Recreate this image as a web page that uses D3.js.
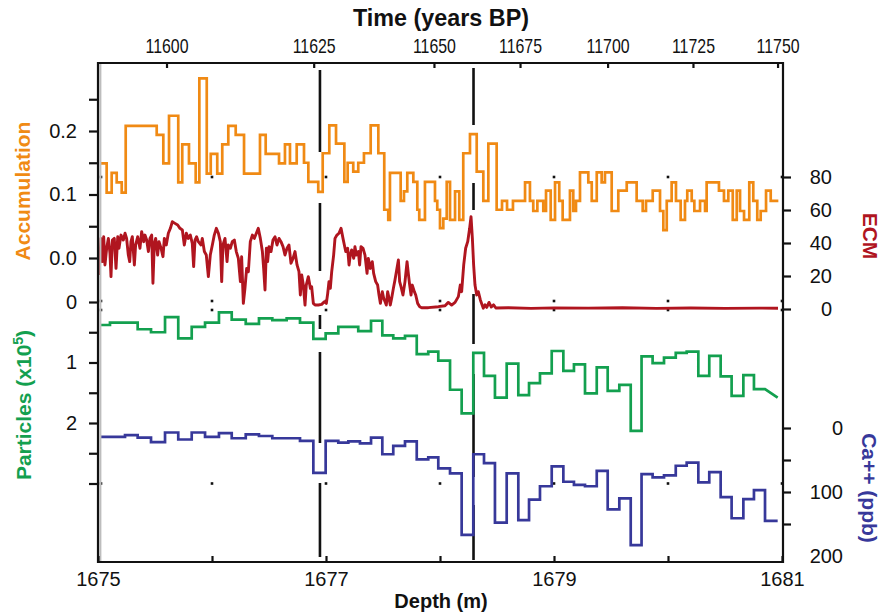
<!DOCTYPE html>
<html>
<head>
<meta charset="utf-8">
<script src="https://cdn.jsdelivr.net/npm/d3@7"></script>
<style>
  html, body { margin: 0; padding: 0; background: #fff; }
  svg { display: block; font-family: "Liberation Sans", Arial, Helvetica, sans-serif; }
</style>
</head>
<body>
<div id="chart"></div>
<script>
// ---- Depth axis (m) and the matching age scale (years BP) ----
const depthDomain = [1675, 1681];
const depthLabels = [1675, 1677, 1679, 1681];
const depthTicks = [1675, 1676, 1677, 1678, 1679, 1680, 1681];
const ageTicks = [11600, 11625, 11650, 11675, 11700, 11725, 11750];
const ageTickDepth = [1675.601, 1676.892, 1677.947, 1678.702, 1679.470, 1680.219, 1680.961];

// ---- Event markers (depth, m) ----
const eventDepth = [1676.947, 1678.294];

// ---- Accumulation (step series: start depth of each step, value) ----
const accDepth = [1675.018,1675.076,1675.120,1675.164,1675.208,1675.243,1675.515,1675.573,1675.623,1675.704,
  1675.739,1675.798,1675.857,1675.889,1675.954,1675.989,1676.046,1676.090,1676.143,1676.208,
  1676.281,1676.421,1676.471,1676.588,1676.640,1676.684,1676.743,1676.807,1676.845,1676.932,
  1676.971,1677.029,1677.088,1677.161,1677.190,1677.239,1677.283,1677.333,1677.392,1677.459,
  1677.511,1677.546,1677.561,1677.655,1677.684,1677.713,1677.766,1677.801,1677.818,1677.868,
  1677.956,1677.976,1678.000,1678.029,1678.059,1678.088,1678.132,1678.169,1678.204,1678.263,
  1678.322,1678.380,1678.424,1678.497,1678.544,1678.588,1678.640,1678.746,1678.789,1678.818,
  1678.854,1678.906,1678.930,1678.971,1679.009,1679.046,1679.076,1679.140,1679.169,1679.193,
  1679.228,1679.301,1679.331,1679.375,1679.418,1679.447,1679.506,1679.564,1679.638,1679.725,
  1679.778,1679.807,1679.866,1679.930,1679.959,1679.989,1680.032,1680.070,1680.111,1680.149,
  1680.169,1680.208,1680.231,1680.281,1680.325,1680.339,1680.447,1680.491,1680.529,1680.568,
  1680.603,1680.632,1680.667,1680.713,1680.748,1680.783,1680.813,1680.860,1680.901];
const accEnd = 1680.968;
const accValue = [0.149,0.103,0.134,0.119,0.103,0.208,0.194,0.149,0.224,0.119,
  0.179,0.149,0.119,0.283,0.133,0.164,0.133,0.179,0.208,0.194,
  0.133,0.194,0.164,0.149,0.179,0.149,0.179,0.150,0.120,0.104,
  0.165,0.209,0.180,0.120,0.150,0.136,0.150,0.165,0.209,0.165,
  0.076,0.060,0.134,0.090,0.105,0.134,0.120,0.076,0.060,0.120,
  0.090,0.076,0.047,0.062,0.120,0.060,0.105,0.060,0.165,0.195,
  0.136,0.090,0.180,0.076,0.090,0.076,0.090,0.119,0.090,0.074,
  0.090,0.074,0.106,0.060,0.119,0.090,0.060,0.106,0.074,0.090,
  0.135,0.119,0.090,0.135,0.119,0.135,0.074,0.106,0.119,0.090,
  0.074,0.090,0.106,0.074,0.044,0.090,0.119,0.090,0.060,0.090,
  0.106,0.090,0.074,0.090,0.074,0.119,0.106,0.090,0.106,0.060,
  0.106,0.074,0.060,0.119,0.090,0.060,0.074,0.106,0.090];

// ---- ECM (continuous record: depth, current) ----
const ecmDepth = [1675.009,1675.026,1675.038,1675.050,1675.061,1675.076,1675.091,1675.105,1675.114,1675.126,
  1675.143,1675.158,1675.173,1675.184,1675.202,1675.222,1675.237,1675.251,1675.266,1675.278,
  1675.289,1675.301,1675.319,1675.330,1675.348,1675.368,1675.383,1675.401,1675.412,1675.427,
  1675.442,1675.456,1675.471,1675.482,1675.494,1675.506,1675.523,1675.535,1675.553,1675.570,
  1675.582,1675.599,1675.617,1675.635,1675.652,1675.675,1675.699,1675.719,1675.740,1675.757,
  1675.775,1675.792,1675.810,1675.827,1675.839,1675.851,1675.865,1675.880,1675.904,1675.915,
  1675.933,1675.950,1675.968,1675.985,1676.003,1676.020,1676.038,1676.056,1676.073,1676.085,
  1676.096,1676.114,1676.132,1676.143,1676.161,1676.178,1676.196,1676.213,1676.231,1676.249,
  1676.260,1676.275,1676.289,1676.304,1676.319,1676.336,1676.354,1676.371,1676.389,1676.406,
  1676.424,1676.442,1676.453,1676.465,1676.477,1676.488,1676.500,1676.518,1676.535,1676.553,
  1676.570,1676.588,1676.605,1676.623,1676.640,1676.658,1676.675,1676.693,1676.711,1676.728,
  1676.746,1676.763,1676.775,1676.787,1676.801,1676.816,1676.827,1676.845,1676.863,1676.874,
  1676.889,1676.904,1676.933,1676.962,1676.985,1677.003,1677.015,1677.026,1677.038,1677.050,
  1677.067,1677.079,1677.096,1677.114,1677.132,1677.149,1677.161,1677.173,1677.190,1677.202,
  1677.213,1677.225,1677.243,1677.254,1677.266,1677.284,1677.295,1677.307,1677.325,1677.342,
  1677.360,1677.371,1677.389,1677.406,1677.418,1677.436,1677.453,1677.465,1677.477,1677.494,
  1677.506,1677.518,1677.529,1677.541,1677.553,1677.564,1677.576,1677.591,1677.605,1677.620,
  1677.635,1677.646,1677.658,1677.675,1677.693,1677.711,1677.722,1677.734,1677.746,1677.757,
  1677.775,1677.787,1677.804,1677.822,1677.839,1677.898,1677.985,1678.044,1678.073,1678.102,
  1678.132,1678.161,1678.178,1678.190,1678.208,1678.225,1678.243,1678.260,1678.272,1678.284,
  1678.295,1678.307,1678.322,1678.336,1678.354,1678.365,1678.380,
  1678.395,1678.410,1678.430,1678.450,1678.470,1678.490,1678.600,1678.800,1679.000,1679.300,
  1679.600,1679.900,1680.200,1680.500,1680.800,1680.965];
const ecmValue = [20.6,42.8,28.7,43.8,26.7,36.8,42.8,33.7,19.6,41.8,
  42.8,24.6,43.8,36.8,44.8,41.8,45.9,42.8,32.7,28.7,
  40.8,43.8,26.7,38.8,43.8,36.8,46.9,40.8,44.8,41.8,
  34.8,42.8,44.8,15.6,39.8,42.8,32.7,40.8,36.8,31.7,
  42.8,38.8,45.9,48.9,52.9,51.9,50.9,48.9,47.9,38.8,
  45.9,42.8,44.8,39.8,25.7,41.8,43.8,40.8,38.8,42.8,
  34.8,32.7,19.6,32.7,38.8,44.8,48.9,45.9,40.8,16.6,
  38.8,42.8,28.7,38.8,36.8,40.8,41.8,34.8,30.7,16.6,
  31.7,3.4,12.5,24.6,22.6,40.8,44.8,42.8,45.9,48.9,
  42.8,34.8,24.6,11.5,36.8,28.7,37.8,34.8,41.8,43.8,
  38.8,42.8,40.8,37.8,32.7,36.8,38.8,27.7,30.7,34.8,
  26.7,22.6,8.5,20.6,14.5,2.4,14.5,19.6,12.5,13.5,
  3.4,2.4,2.4,2.8,4.4,3.4,9.5,16.6,12.5,22.6,
  32.7,42.8,44.8,45.9,48.9,42.8,38.8,34.8,36.8,26.7,
  32.7,35.8,30.7,37.8,32.7,34.8,26.7,37.8,36.8,32.7,
  21.6,30.7,24.6,28.7,21.6,16.6,14.5,8.5,3.4,10.5,
  6.5,4.4,2.4,10.5,6.5,2.4,6.5,12.5,17.6,23.6,
  29.7,16.6,13.5,8.5,16.6,28.7,21.6,14.5,8.5,14.5,
  10.5,8.5,3.4,1.4,0.8,0.8,1.4,2.0,4.0,2.4,
  4.0,7.5,14.5,10.5,26.7,36.8,40.8,48.9,56.0,42.8,
  26.7,14.5,8.5,10.5,5.5,3.4,0.5,
  2.5,1.0,4.0,1.2,2.5,0.6,0.8,0.4,0.7,0.5,
  0.8,0.4,0.6,0.4,0.5,0.5];

// ---- Particles (x10^5, step series) ----
const partDepth = [1675.018,1675.105,1675.348,1675.465,1675.588,1675.704,1675.822,1675.939,1676.061,1676.173,
  1676.296,1676.412,1676.529,1676.655,1676.772,1676.889,1676.997,1677.108,1677.283,1677.395,
  1677.494,1677.590,1677.693,1677.796,1677.897,1677.985,1678.088,1678.190,1678.292,1678.386,
  1678.482,1678.585,1678.687,1678.781,1678.877,1678.980,1679.082,1679.175,1679.272,1679.375,
  1679.471,1679.573,1679.673,1679.768,1679.865,1679.965,1680.068,1680.164,1680.266,1680.362,
  1680.462,1680.558,1680.661,1680.754,1680.851];
const partEnd = 1680.962;
const partValue = [0.38,0.34,0.45,0.50,0.25,0.60,0.41,0.34,0.17,0.29,
  0.36,0.27,0.30,0.27,0.34,0.61,0.52,0.41,0.48,0.31,
  0.55,0.60,0.56,0.86,0.82,0.97,1.45,1.84,0.84,1.22,
  1.58,1.02,1.54,1.34,1.18,0.81,1.14,1.03,1.51,1.08,
  1.47,1.37,2.13,0.90,1.01,0.92,0.84,0.82,1.22,0.89,
  1.23,1.55,1.21,1.44,1.44];
const partEndValue = 1.58;

// ---- Ca++ (ppb, step series) ----
const caDepth = [1675.018,1675.237,1675.348,1675.465,1675.588,1675.704,1675.822,1675.939,1676.061,1676.173,
  1676.296,1676.412,1676.529,1676.772,1676.889,1676.997,1677.108,1677.196,1677.298,1677.395,
  1677.494,1677.590,1677.693,1677.796,1677.897,1677.985,1678.088,1678.190,1678.292,1678.386,
  1678.482,1678.585,1678.687,1678.781,1678.877,1678.980,1679.082,1679.175,1679.272,1679.375,
  1679.471,1679.573,1679.673,1679.768,1679.865,1679.965,1680.068,1680.164,1680.266,1680.362,
  1680.462,1680.558,1680.661,1680.754,1680.851];
const caEnd = 1680.962;
const caValue = [14,11,15,22,7,18,7,14,8,16,
  10,12.5,16,20,70,20,23,21,24,15,
  41,28,21,49,46,63,71,167,41,55,
  148,71,144,112,91,60,84,89,91,67,
  127,110,183,72,77,74,59,54,85,69,
  108,141,111,97,145];

// ---- Axis tick values ----
const accTicks = [0, 0.05, 0.1, 0.15, 0.2, 0.25];
const accLabels = [0, 0.1, 0.2];
const partTicks = [0, 0.5, 1, 1.5, 2, 2.5, 3];
const partLabels = [0, 1, 2];
const ecmTicks = [0, 20, 40, 60, 80];
const caTicks = [0, 50, 100, 150];
const caLabels = [0, 100, 200];

// ---- Layout & style ----
const W = 889, H = 613;
const frame = { left: 98, right: 783, top: 63, bottom: 562 };
const COL = { acc: "#f08a14", ecm: "#b0151f", part: "#13a04f", ca: "#37389a", ink: "#111" };

const svg = d3.select("#chart").append("svg")
  .attr("width", W).attr("height", H).attr("viewBox", `0 0 ${W} ${H}`);
svg.append("rect").attr("width", W).attr("height", H).attr("fill", "#fff");

const x = d3.scaleLinear().domain(depthDomain).range([98, 782]);
const yAcc = d3.scaleLinear().domain([0, 0.1]).range([258, 194.5]);
const yEcm = d3.scaleLinear().domain([0, 80]).range([309, 177]);
const yPart = d3.scaleLinear().domain([0, 2]).range([302, 423]);
const yCa = d3.scaleLinear().domain([0, 200]).range([428, 556]);

// step outline: horizontal runs joined by vertical risers
function stepPoints(starts, values, end, endValue) {
  const pts = [];
  const n = Math.min(starts.length, values.length);
  for (let i = 0; i < n; i++) {
    const d0 = starts[i];
    const d1 = i + 1 < n ? starts[i + 1] : end;
    pts.push([d0, values[i]]);
    pts.push([d1, (i === n - 1 && endValue !== undefined) ? endValue : values[i]]);
  }
  return pts;
}

// event markers (long dashes) behind the records
const eventDash = ["82,51,68,44,14,23,91,40,74", "57,58,27,84,50,30,103,28,61,10,13"];
const eventStart = [70, 68];
svg.append("g").selectAll("line").data(eventDepth).join("line")
  .attr("x1", d => x(d)).attr("x2", d => x(d))
  .attr("y1", (d, i) => eventStart[i]).attr("y2", 560)
  .attr("stroke", COL.ink).attr("stroke-width", 2.6)
  .attr("stroke-dasharray", (d, i) => eventDash[i]);

// small registration dots at every metre
const dotRows = [yEcm(80), yPart(0) - 1, yEcm(0) + 1, yPart(3)];
const dots = [];
depthTicks.forEach(m => dotRows.forEach(r => dots.push([m, r])));
svg.append("g").selectAll("rect").data(dots).join("rect")
  .attr("x", d => Math.min(Math.max(x(d[0]), 101), 785) - 1.3)
  .attr("y", d => d[1] - 1.3)
  .attr("width", 2.6).attr("height", 2.6).attr("fill", COL.ink);

const line = (ys) => d3.line().x(d => x(d[0])).y(d => ys(d[1]));

// records
svg.append("path").datum(d3.zip(ecmDepth, ecmValue))
  .attr("d", line(yEcm)).attr("fill", "none")
  .attr("stroke", COL.ecm).attr("stroke-width", 2.9).attr("stroke-linejoin", "round");

svg.append("path").datum(stepPoints(accDepth, accValue, accEnd))
  .attr("d", line(yAcc)).attr("fill", "none")
  .attr("stroke", COL.acc).attr("stroke-width", 2.7);

svg.append("path").datum(stepPoints(partDepth, partValue, partEnd, partEndValue))
  .attr("d", line(yPart)).attr("fill", "none")
  .attr("stroke", COL.part).attr("stroke-width", 2.7);

svg.append("path").datum(stepPoints(caDepth, caValue, caEnd))
  .attr("d", line(yCa)).attr("fill", "none")
  .attr("stroke", COL.ca).attr("stroke-width", 2.7);

// frame
const fr = svg.append("g").attr("stroke", COL.ink).attr("stroke-width", 2.2).attr("fill", "none");
fr.append("line").attr("x1", frame.left + 2.4).attr("x2", frame.left + 2.4)
  .attr("y1", frame.top + 1).attr("y2", frame.bottom - 1)
  .attr("stroke", "#bdbdbd").attr("stroke-width", 2);
fr.append("path").attr("d",
  `M${frame.left},${frame.top}H${frame.right}V${frame.bottom}H${frame.left}Z`);

function styleAxis(g, size) {
  g.select(".domain").remove();
  g.selectAll(".tick line").attr("stroke", COL.ink).attr("stroke-width", 2.2);
  g.selectAll(".tick text").attr("fill", COL.ink).attr("font-size", size)
    .attr("font-family", "Liberation Sans, Arial, sans-serif");
}

// bottom depth axis
const gB = svg.append("g").attr("transform", `translate(0,${frame.bottom})`)
  .call(d3.axisBottom(x).tickValues(depthTicks).tickSize(-6).tickPadding(10)
    .tickFormat(d => depthLabels.includes(d) ? d3.format("d")(d) : ""));
styleAxis(gB, 20);
gB.selectAll(".tick text").attr("y", 10).attr("dy", "0.71em");

// top age axis (condensed numerals)
const ageOf = new Map(ageTickDepth.map((d, i) => [d, ageTicks[i]]));
const gT = svg.append("g").attr("transform", `translate(0,${frame.top})`)
  .call(d3.axisTop(x).tickValues(ageTickDepth).tickSize(-5).tickPadding(10)
    .tickFormat(d => String(ageOf.get(d))));
styleAxis(gT, 21);
gT.selectAll(".tick text")
  .attr("font-family", "Liberation Sans Narrow, Liberation Sans, Arial, sans-serif")
  .attr("y", -10).attr("textLength", 43).attr("lengthAdjust", "spacingAndGlyphs");

// left: accumulation
const gA = svg.append("g").attr("transform", `translate(${frame.left},0)`)
  .call(d3.axisLeft(yAcc).tickValues(accTicks).tickSize(9).tickPadding(12)
    .tickFormat(d => accLabels.some(v => Math.abs(v - d) < 1e-9) ? d3.format(".1f")(d) : ""));
styleAxis(gA, 20);

// left: particles
const gP = svg.append("g").attr("transform", `translate(${frame.left},0)`)
  .call(d3.axisLeft(yPart).tickValues(partTicks).tickSize(9).tickPadding(12)
    .tickFormat(d => partLabels.includes(d) ? d3.format("d")(d) : ""));
styleAxis(gP, 20);

// right: ECM
const gE = svg.append("g").attr("transform", `translate(${frame.right},0)`)
  .call(d3.axisRight(yEcm).tickValues(ecmTicks).tickSize(8).tickPadding(16));
styleAxis(gE, 20);
gE.selectAll(".tick text").attr("x", 49).attr("text-anchor", "end");

// right: Ca++
const gC = svg.append("g").attr("transform", `translate(${frame.right},0)`)
  .call(d3.axisRight(yCa).tickValues(caTicks.concat([200])).tickSize(8).tickPadding(16)
    .tickFormat(d => caLabels.includes(d) ? d3.format("d")(d) : ""));
styleAxis(gC, 20);
gC.selectAll(".tick text").attr("x", 60).attr("text-anchor", "end");
gC.selectAll(".tick").filter(d => !caTicks.includes(d)).select("line").remove();

// titles
const title = (txt, xPos, yPos, rot, color) => {
  const t = svg.append("text")
    .attr("transform", `translate(${xPos},${yPos}) rotate(${rot})`)
    .attr("text-anchor", "middle").attr("font-weight", "bold")
    .attr("font-size", 21).attr("fill", color);
  return t.text(txt);
};
title("Time (years BP)", 441, 26, 0, COL.ink).attr("font-size", 23)
  .attr("textLength", 176).attr("lengthAdjust", "spacingAndGlyphs");
title("Depth (m)", 441, 608, 0, COL.ink).attr("font-size", 20);
title("Accumulation", 30, 191, -90, COL.acc);
title("ECM", 863, 236, 90, COL.ecm);
const pt = title("Particles (x10", 31, 405, -90, COL.part);
pt.append("tspan").attr("font-size", 14).attr("dy", -8).text("5");
pt.append("tspan").attr("dy", 8).text(")");
title("Ca++ (ppb)", 862, 488, 90, COL.ca);
</script>
</body>
</html>
